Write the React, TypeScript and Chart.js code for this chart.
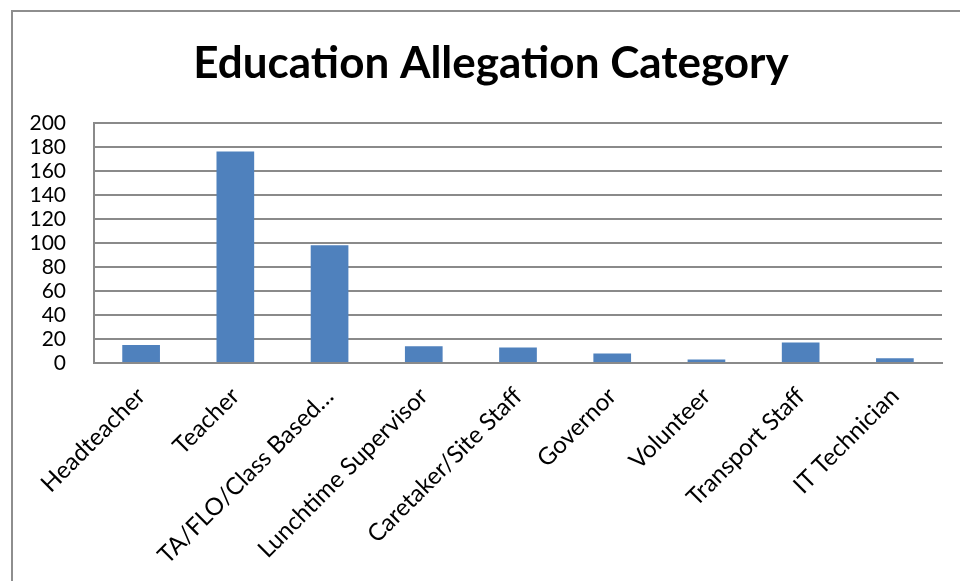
import React, { useEffect, useRef } from "react";
import { Chart, registerables } from "chart.js";

Chart.register(...registerables);

const TITLE = "Education Allegation Category";
const categories = [
  "Headteacher",
  "Teacher",
  "TA/FLO/Class Based…",
  "Lunchtime Supervisor",
  "Caretaker/Site Staff",
  "Governor",
  "Volunteer",
  "Transport Staff",
  "IT Technician",
];
const counts = [15, 176, 98, 14, 13, 8, 3, 17, 4];
const yMin = 0;
const yMax = 200;
const yStep = 20;

const FONT = "Lato, 'Open Sans', sans-serif";
const GRID = "#8a8a8a";

export default function App() {
  const ref = useRef<HTMLCanvasElement | null>(null);

  useEffect(() => {
    if (!ref.current) return;
    const chart = new Chart(ref.current, {
      type: "bar",
      data: {
        labels: categories,
        datasets: [
          {
            data: counts,
            backgroundColor: "#4F81BD",
            borderWidth: 0,
            categoryPercentage: 1,
            barPercentage: 0.4,
          },
        ],
      },
      options: {
        animation: false,
        responsive: false,
        maintainAspectRatio: false,
        layout: { padding: { left: 22, right: 0, top: 0, bottom: 0 } },
        plugins: {
          legend: { display: false },
          tooltip: { enabled: false },
          title: {
            display: true,
            text: TITLE,
            color: "#000",
            font: { family: FONT, size: 44, weight: "bold" },
            padding: { top: 37, bottom: 33 },
          },
        },
        scales: {
          x: {
            grid: { display: false, drawTicks: false },
            border: { display: true, color: GRID, width: 2 },
            ticks: {
              autoSkip: false,
              maxRotation: 45,
              minRotation: 45,
              padding: 19,
              color: "#000",
              font: { family: FONT, size: 24 },
            },
            afterFit: (s: any) => {
              s.height = 218;
            },
          },
          y: {
            min: yMin,
            max: yMax,
            grid: { color: GRID, lineWidth: 2, drawTicks: false },
            border: { display: true, color: GRID, width: 2 },
            ticks: {
              autoSkip: false,
              stepSize: yStep,
              padding: 28,
              color: "#000",
              font: { family: FONT, size: 21 },
            },
            afterFit: (s: any) => {
              s.width = 72;
            },
          },
          spacer: {
            type: "linear",
            position: "right",
            display: true,
            grid: { display: false, drawTicks: false },
            border: { display: false },
            ticks: { display: false },
            afterFit: (s: any) => {
              s.width = 18;
            },
          },
        },
      },
    });
    return () => chart.destroy();
  }, []);

  return (
    <div style={{ position: "absolute", left: 0, top: 0, width: 960, height: 581, overflow: "hidden", background: "#fff" }}>
      <div
        style={{
          position: "absolute",
          left: 11,
          top: 10,
          width: 980,
          height: 620,
          border: "2px solid #8e8e8e",
          boxSizing: "border-box",
        }}
      />
      <canvas ref={ref} width={960} height={581} style={{ position: "absolute", left: 0, top: 0 }} />
    </div>
  );
}
